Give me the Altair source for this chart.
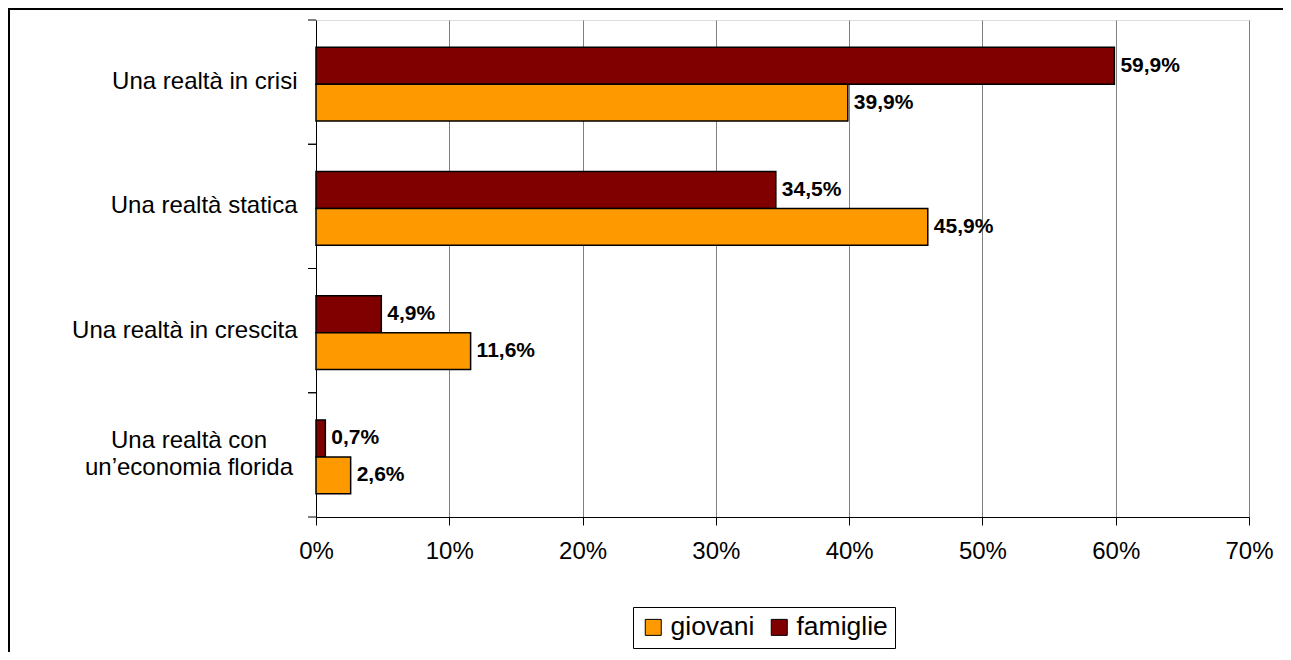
import altair as alt
import pandas as pd

categories = ["Una realtà in crisi", "Una realtà statica", "Una realtà in crescita",
              "Una realtà con|un’economia florida"]
giovani = [39.9, 45.9, 11.6, 2.6]
famiglie = [59.9, 34.5, 4.9, 0.7]
series = ["giovani", "famiglie"]
colors = ["#FF9900", "#800000"]
x_ticks = [0, 10, 20, 30, 40, 50, 60, 70]

rows = []
for c, g, f in zip(categories, giovani, famiglie):
    rows.append({"cat": c, "serie": "famiglie", "val": f})
    rows.append({"cat": c, "serie": "giovani", "val": g})
df = pd.DataFrame(rows)
df["lab"] = df["val"].map(lambda v: f"{v:.1f}".replace(".", ",") + "%")

cat_df = pd.DataFrame({"cat": categories})
multi_df = cat_df[cat_df["cat"].str.contains("|", regex=False)]
FONT = "Liberation Sans"

y_enc = alt.Y("cat:N", sort=categories,
              scale=alt.Scale(domain=categories, paddingInner=0, paddingOuter=0),
              axis=alt.Axis(title=None, ticks=False, domainColor="black", domainWidth=1,
                            labelFont=FONT, labelFontSize=24, labelColor="black",
                            labelPadding=19, labelLimit=400,
                            labelExpr="indexof(datum.label, '|') >= 0 ? '' : datum.label"))
x_enc = alt.X("val:Q", scale=alt.Scale(domain=[0, 70], nice=False, zero=True),
              axis=alt.Axis(title=None, values=x_ticks, labelExpr="datum.value + '%'",
                            grid=True, gridColor="#808080", gridWidth=1,
                            domainColor="black", tickColor="black", tickSize=8,
                            labelFont=FONT, labelFontSize=24, labelColor="black",
                            labelPadding=14, labelFlush=False))
yoff = alt.YOffset("serie:N", scale=alt.Scale(domain=["famiglie", "giovani"],
                                              paddingInner=0, paddingOuter=0.68,
                                              align=0.54))

one = pd.DataFrame({"a": [1]})
frame_top = alt.Chart(one).mark_rect(color="black", strokeWidth=0, clip=False).encode(
    x=alt.value(-308), x2=alt.value(3000), y=alt.value(-12), y2=alt.value(-10))
frame_left = alt.Chart(one).mark_rect(color="black", strokeWidth=0, clip=False).encode(
    x=alt.value(-308), x2=alt.value(-306), y=alt.value(-12), y2=alt.value(3000))

bars = alt.Chart(df).mark_bar(stroke="black", strokeWidth=1.5).encode(
    y=y_enc, x=x_enc, yOffset=yoff,
    color=alt.Color("serie:N", scale=alt.Scale(domain=series, range=colors),
                    legend=alt.Legend(title=None, orient="none", legendX=317, legendY=587,
                                      direction="horizontal", strokeColor="black",
                                      fillColor="white", padding=7, symbolType="square",
                                      symbolSize=256, symbolStrokeColor="black",
                                      symbolStrokeWidth=1, symbolOpacity=1,
                                      labelFont=FONT, labelFontSize=26.5,
                                      labelColor="black", columnPadding=11,
                                      labelOffset=4)),
)

labels = alt.Chart(df).mark_text(align="left", baseline="middle", dx=6,
                                 font=FONT, fontSize=21, fontWeight="bold",
                                 color="black").encode(
    y=alt.Y("cat:N", sort=categories), x="val:Q", yOffset="serie:N", text="lab:N")

multi_label = alt.Chart(multi_df).mark_text(
    align="center", baseline="middle", lineBreak="|", lineHeight=27, dy=-14,
    font=FONT, fontSize=24, color="black", clip=False
).encode(y=alt.Y("cat:N", sort=categories), x=alt.value(-127), text="cat:N")

ticks_top = alt.Chart(cat_df).mark_rule(color="black", strokeWidth=1).encode(
    y=alt.Y("cat:N", sort=categories, bandPosition=0),
    x=alt.value(-8), x2=alt.value(0))
ticks_bot = alt.Chart(cat_df).mark_rule(color="black", strokeWidth=1).encode(
    y=alt.Y("cat:N", sort=categories, bandPosition=1),
    x=alt.value(-8), x2=alt.value(0))

chart = alt.layer(frame_top, frame_left, bars, labels, multi_label,
                  ticks_top, ticks_bot).properties(
    width=933, height=497,
    autosize=alt.AutoSizeParams(type="none"),
    padding={"left": 308, "top": 12, "right": 34, "bottom": 135},
).configure_view(stroke="#808080", strokeWidth=1).configure(background="white")

chart.save("out.html", embed_options={"renderer": "svg", "actions": False})
